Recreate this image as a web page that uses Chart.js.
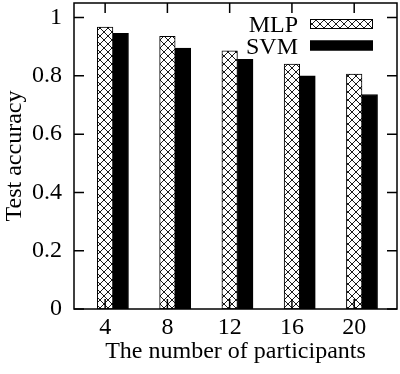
<!DOCTYPE html>
<html>
<head>
<meta charset="utf-8">
<script src="https://cdn.jsdelivr.net/npm/chart.js@4"></script>
<style>
  html, body { margin: 0; padding: 0; background: #fff; }
  #wrap { width: 400px; height: 374px; }
</style>
</head>
<body>
<div id="wrap"><canvas id="c" width="400" height="374"></canvas></div>
<script>
// ---- data ----
const categories = [4, 8, 12, 16, 20];
const mlpValues = [0.967, 0.936, 0.886, 0.840, 0.806];
const svmValues = [0.946, 0.895, 0.857, 0.800, 0.736];
const seriesNames = ['MLP', 'SVM'];
const yTicks = [0, 0.2, 0.4, 0.6, 0.8, 1];
const xTitle = 'The number of participants';
const yTitle = 'Test accuracy';

// bar placement (x-axis units): second series sits one bar-width to the right
const SECOND_BAR_SHIFT = 1;

const FONT = 'Liberation Serif';

const ctx0 = document.getElementById('c').getContext('2d');
const hatch = ctx0.createPattern((function(){
  const t = document.createElement('canvas');
  t.width = 8; t.height = 8;
  const g = t.getContext('2d');
  g.fillStyle = '#fff'; g.fillRect(0,0,8,8);
  g.strokeStyle = '#000'; g.lineWidth = 0.9;
  g.beginPath();
  g.moveTo(-1,-1); g.lineTo(9,9);
  g.moveTo(-1,9); g.lineTo(9,-1);
  g.stroke();
  return t;
})(), 'repeat');

const framePlugin = {
  id: 'frame',
  afterDatasetsDraw(chart) {
    const {ctx, chartArea: a, scales} = chart;
    ctx.save();
    ctx.strokeStyle = '#000';
    ctx.lineWidth = 1.5;
    ctx.strokeRect(a.left, a.top, a.right - a.left, a.bottom - a.top);
    const L = 10;
    ctx.beginPath();
    yTicks.forEach(v => {
      const y = scales.y.getPixelForValue(v);
      ctx.moveTo(a.left, y); ctx.lineTo(a.left + L, y);
      ctx.moveTo(a.right, y); ctx.lineTo(a.right - L, y);
    });
    categories.forEach(v => {
      const x = scales.x.getPixelForValue(v);
      ctx.moveTo(x, a.bottom); ctx.lineTo(x, a.bottom - L);
      ctx.moveTo(x, a.top); ctx.lineTo(x, a.top + L);
    });
    ctx.stroke();

    // legend (inside, top right)
    ctx.font = '24px "' + FONT + '"';
    ctx.textAlign = 'right';
    ctx.textBaseline = 'middle';
    const rows = [24, 45.5];
    chart.data.datasets.forEach((ds, i) => {
      const cy = rows[i];
      ctx.fillStyle = '#000';
      ctx.fillText(ds.label, 298, cy + 2);
      ctx.fillStyle = ds.backgroundColor;
      ctx.fillRect(310, cy - 5, 63, 10);
      ctx.lineWidth = 1;
      ctx.strokeStyle = '#000';
      ctx.strokeRect(310.5, cy - 5 + 0.5, 62, 9);
    });
    ctx.restore();
  }
};

new Chart(document.getElementById('c'), {
  type: 'bar',
  data: {
    datasets: [
      {
        label: seriesNames[0],
        data: categories.map((c, i) => ({x: c, y: mlpValues[i]})),
        backgroundColor: hatch,
        borderColor: '#000',
        borderWidth: 1,
        borderSkipped: false
      },
      {
        label: seriesNames[1],
        data: categories.map((c, i) => ({x: c + SECOND_BAR_SHIFT, y: svmValues[i]})),
        backgroundColor: '#000',
        borderColor: '#000',
        borderWidth: 1,
        borderSkipped: false
      }
    ]
  },
  options: {
    responsive: false,
    animation: false,
    devicePixelRatio: 1,
    grouped: false,
    barPercentage: 1,
    categoryPercentage: 1,
    layout: { padding: { top: 3, right: 3, left: 0, bottom: 8 } },
    plugins: { legend: { display: false }, tooltip: { enabled: false } },
    scales: {
      x: {
        type: 'linear',
        offset: false,
        min: 2,
        max: 22.75,
        afterBuildTicks(scale) { scale.ticks = categories.map(v => ({value: v})); },
        afterFit(scale) {
          scale.height = 57;
          scale.paddingLeft = 0; scale.paddingRight = 0;
          scale.paddingTop = 0; scale.paddingBottom = 0;
        },
        grid: { display: false, drawTicks: false, offset: false },
        border: { display: false },
        ticks: {
          color: '#000',
          font: { family: FONT, size: 24 },
          padding: 4,
          maxRotation: 0,
          autoSkip: false,
          callback: v => String(v)
        },
        title: {
          display: true,
          text: xTitle,
          color: '#000',
          font: { family: FONT, size: 24 },
          padding: { top: 0, bottom: 0 }
        }
      },
      y: {
        min: 0,
        max: 1.05,
        afterBuildTicks(scale) { scale.ticks = yTicks.map(v => ({value: v})); },
        afterFit(scale) {
          scale.width = 74;
          scale.paddingLeft = 0; scale.paddingRight = 0;
          scale.paddingTop = 0; scale.paddingBottom = 0;
        },
        grid: { display: false, drawTicks: false },
        border: { display: false },
        ticks: {
          color: '#000',
          font: { family: FONT, size: 24 },
          padding: 12,
          callback: v => String(v)
        },
        title: {
          display: true,
          text: yTitle,
          color: '#000',
          font: { family: FONT, size: 24 },
          padding: { top: 0, bottom: 0 }
        }
      }
    }
  },
  plugins: [framePlugin]
});
</script>
</body>
</html>
